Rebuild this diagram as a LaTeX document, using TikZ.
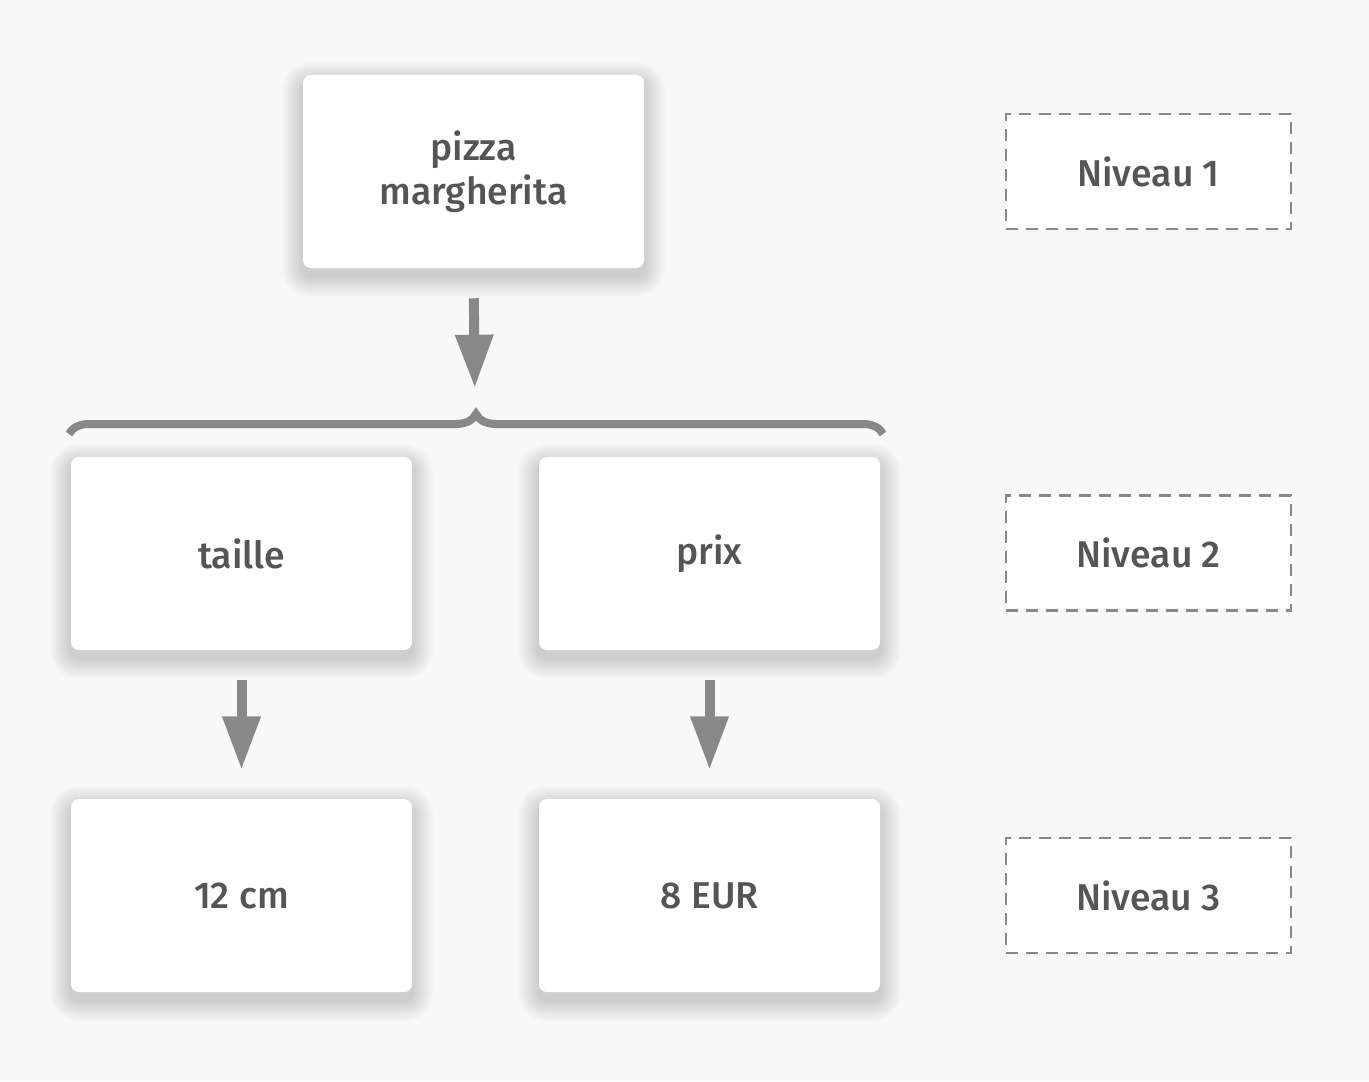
\documentclass[tikz,border=0pt]{standalone}
\usepackage{fontspec}
\setmainfont{Fira Sans}[UprightFont={* Medium}]
\usepackage{xcolor}
\usetikzlibrary{arrows.meta,positioning,calc,decorations.pathreplacing,backgrounds}
\definecolor{pagebg}{HTML}{F8F8F8}
\definecolor{textgray}{HTML}{555555}
\definecolor{linegray}{HTML}{888888}
\tikzset{
  card/.style={
    fill=white,rounded corners=6pt,minimum width=255.75pt,minimum height=144.75pt,
    align=center,text=textgray,font=\fontsize{28}{33}\selectfont
  },
  levelbox/.style={
    draw=linegray,fill=white,dash pattern=on 9pt off 6pt,line width=2.2pt,
    minimum width=213.75pt,minimum height=86.25pt,text=textgray,
    font=\fontsize{28}{33}\selectfont
  },
  shadowstep/.style={fill=black,fill opacity=0.011,draw=none},
  bigarrow/.style={-{Triangle[length=40pt,width=27pt]},line width=7.5pt,draw=linegray},
  bracket/.style={draw=linegray,line width=6pt,
    decorate,decoration={brace,amplitude=15pt,aspect=0.5}}
}
\begin{document}
\begin{tikzpicture}[x=0.75pt,y=-0.75pt]
  \useasboundingbox (0,0) rectangle (1369,1081);
  % level 1
  \node[card] (pizza) at (473.5,171.5) {pizza\\margherita};
  % level 2
  \node[card] (taille) at (241.5,553.5) {taille};
  \node[card] (prix) at (709.5,553.5) {prix};
  % level 3
  \node[card] (cm) at (241.5,895.5) {12 cm};
  \node[card] (eur) at (709.5,895.5) {8 EUR};
  % level labels
  \node[levelbox] (niv1) at (1148.5,171.5) {Niveau 1};
  \node[levelbox] (niv2) at (1148.5,553) {Niveau 2};
  \node[levelbox] (niv3) at (1148.5,895.5) {Niveau 3};
  % brace over level 2
  \coordinate (braceL) at (69,434);
  \coordinate (braceR) at (883,434);
  \coordinate (bracetip) at (475,408);
  \draw[bracket] (braceL) -- (braceR);
  \draw[bigarrow,shorten <=22.5pt,shorten >=15pt] (pizza.south) -- (bracetip);
  \draw[bigarrow,shorten <=22.5pt,shorten >=21.75pt] (taille.south) -- (cm.north);
  \draw[bigarrow,shorten <=22.5pt,shorten >=21.75pt] (prix.south) -- (eur.north);
  % page and soft shadows behind the cards
  \begin{scope}[on background layer]
    \fill[pagebg] (0,0) rectangle (1369,1081);
    \foreach \n in {pizza,taille,prix,cm,eur}
      \foreach \r in {1,...,14}
        \fill[shadowstep,rounded corners={6pt+\r*1.1pt}]
          ($(\n.south west)+(-1.5*\r,8+1.5*\r)$) rectangle ($(\n.north east)+(1.5*\r,8-1.5*\r)$);
  \end{scope}
\end{tikzpicture}
\end{document}
